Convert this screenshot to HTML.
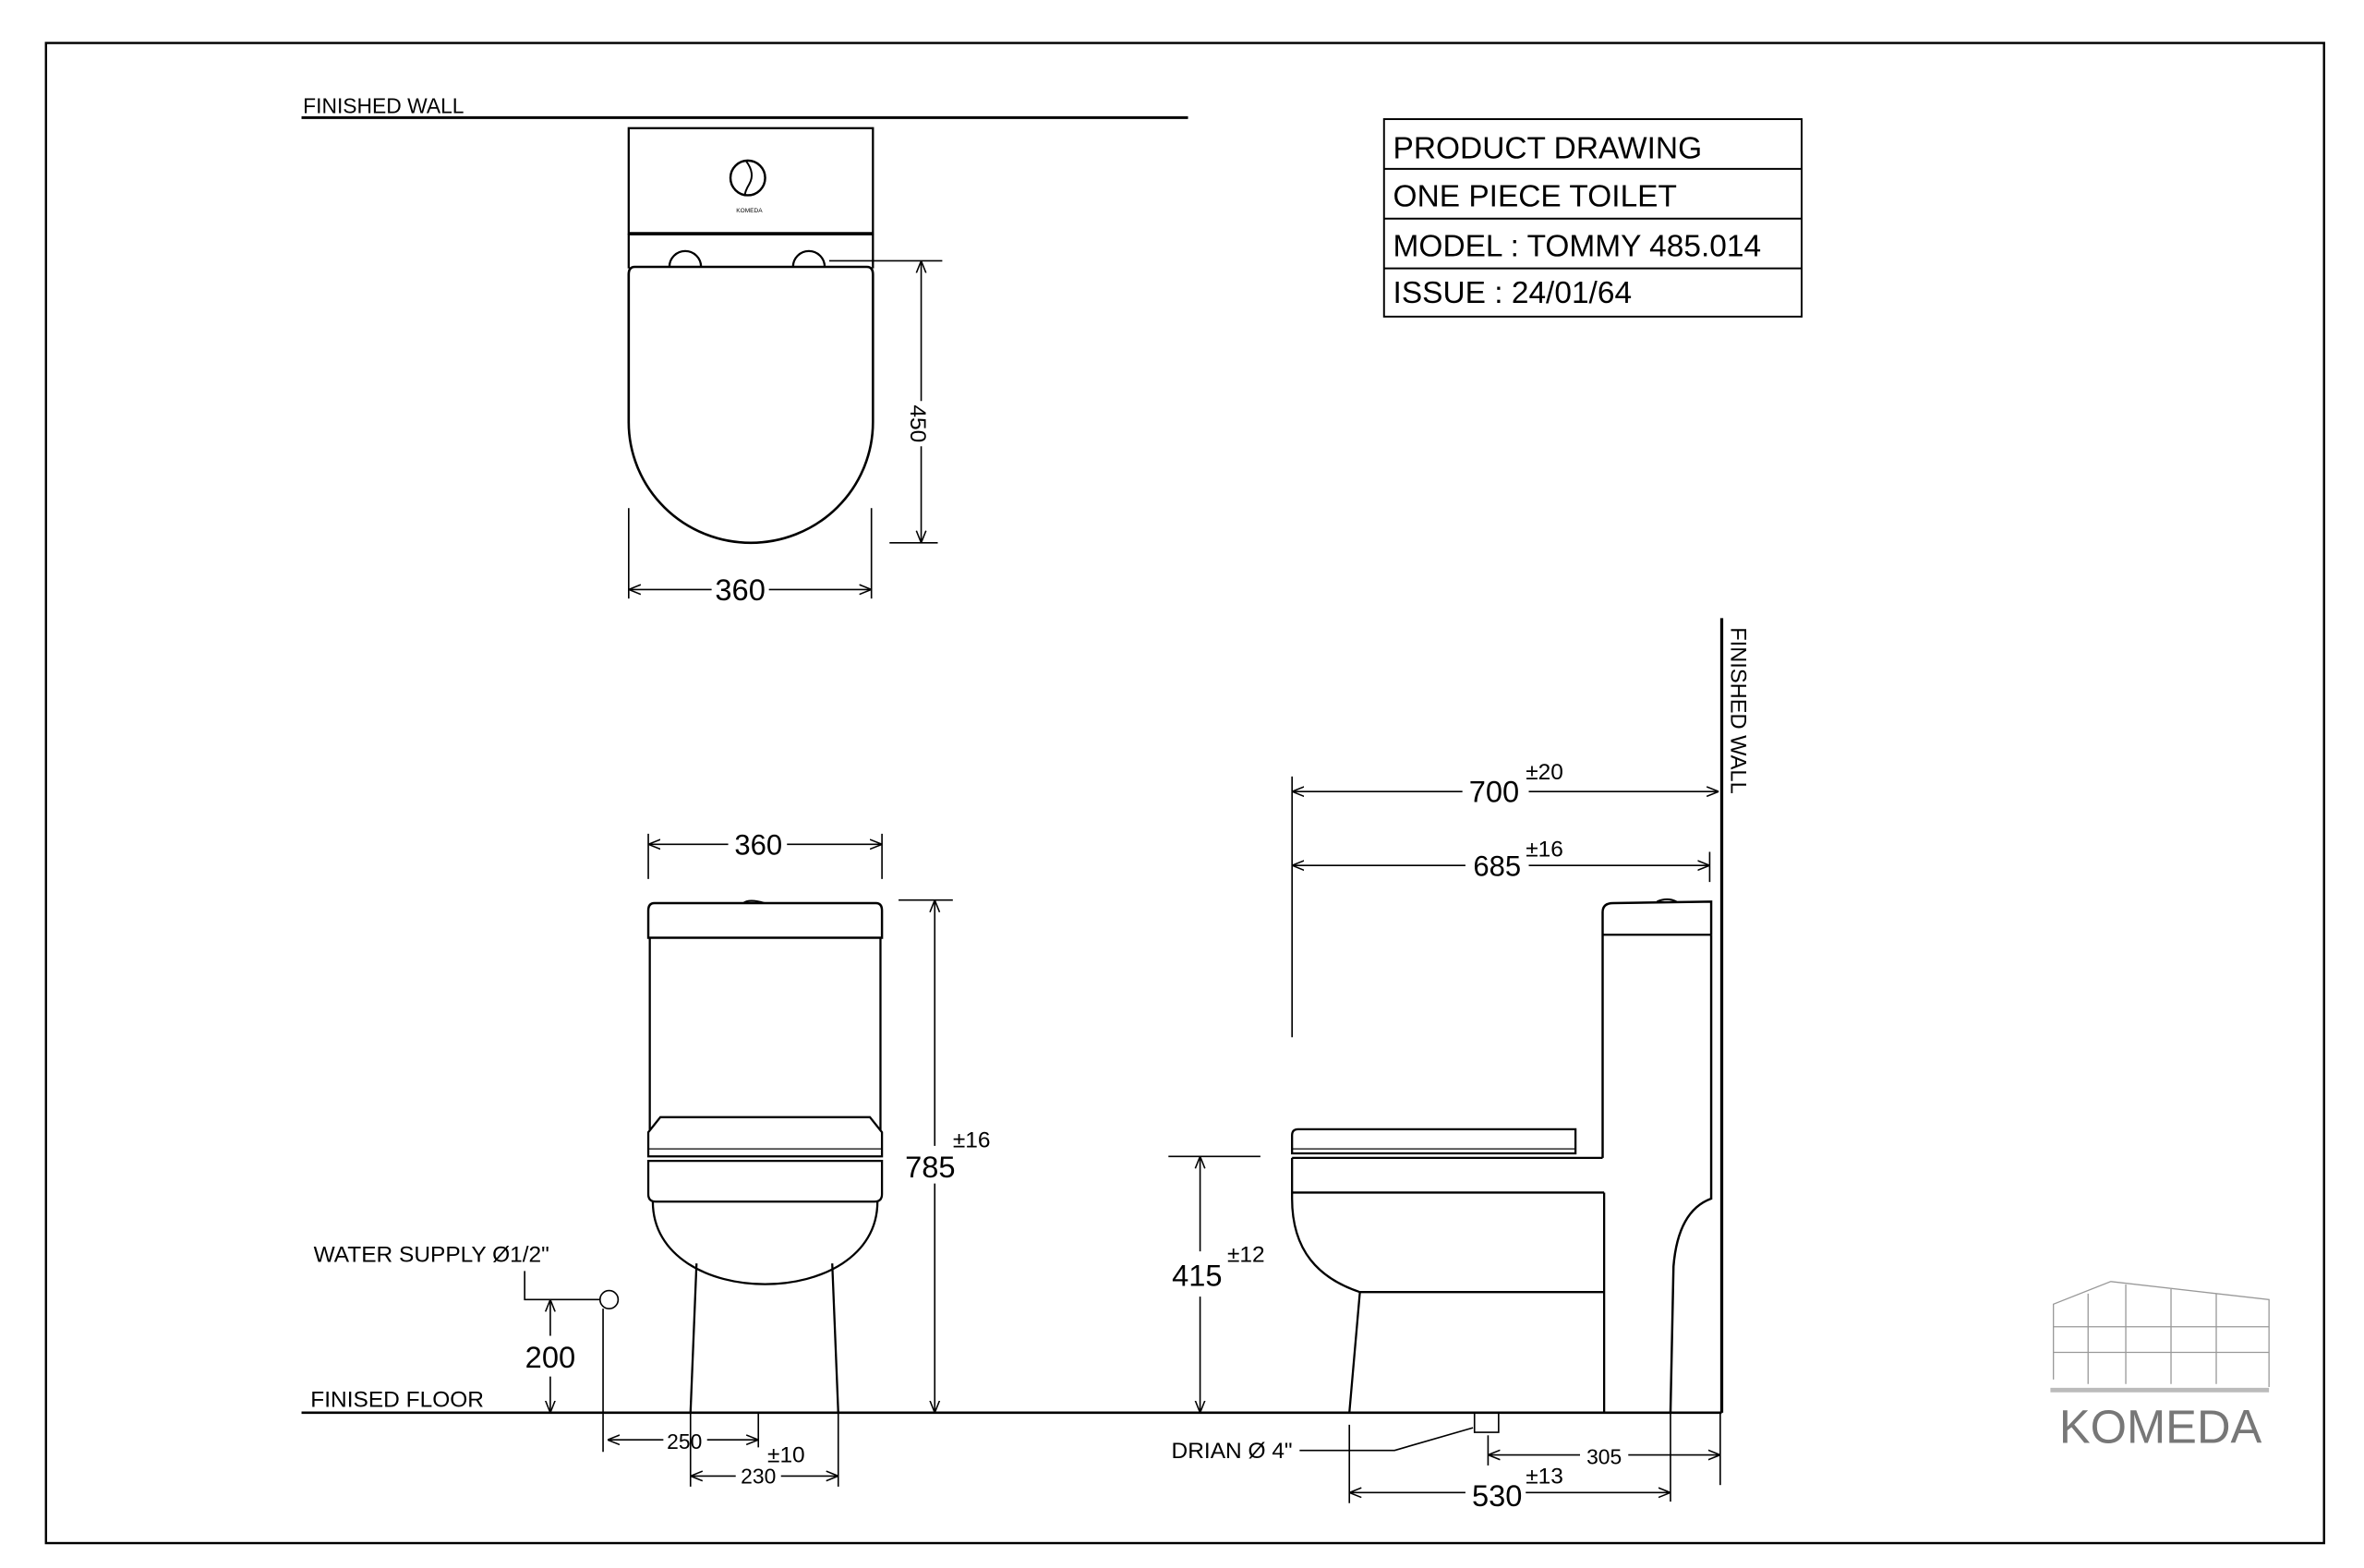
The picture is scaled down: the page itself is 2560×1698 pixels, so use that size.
<!DOCTYPE html>
<html><head><meta charset="utf-8"><style>html,body{margin:0;padding:0;background:#fff}svg{display:block}</style></head>
<body>
<svg width="2560" height="1698" viewBox="0 0 1568 1040" xmlns="http://www.w3.org/2000/svg" font-family="Liberation Sans, sans-serif">
<defs>
<marker id="a" viewBox="0 0 10 10" refX="10" refY="5" markerWidth="8" markerHeight="8" orient="auto-start-reverse" markerUnits="userSpaceOnUse"><path d="M0,1 L10,5 L0,9" fill="none" stroke="#000" stroke-width="1.2"/></marker>
</defs>
<rect width="1568" height="1040" fill="#fff"/>
<rect x="30.5" y="28.5" width="1511" height="995" fill="none" stroke="#000" stroke-width="1.5"/>

<g stroke="#000" fill="none" stroke-width="1.4">
<!-- top view -->
<line x1="200" y1="78" x2="788" y2="78" stroke-width="1.8"/>
<rect x="417" y="85" width="162" height="70"/>
<line x1="417" y1="155" x2="579" y2="155" stroke-width="2.2"/>
<line x1="417" y1="155" x2="417" y2="178"/><line x1="579" y1="155" x2="579" y2="178"/>
<path d="M444,177 A10,10 0 0 1 465,177"/><path d="M526,177 A10,10 0 0 1 547,177"/>
<path d="M421,177 L575,177 Q579,177 579,182 L579,280 A81,80 0 0 1 417,280 L417,182 Q417,177 421,177 Z" stroke-width="1.6"/>
<circle cx="496" cy="118" r="11.5" stroke-width="1.5"/>
<path d="M495,107 Q501,115 497,122 Q494,127 494,130" stroke-width="1.2"/>
<g stroke-width="1">
<line x1="550" y1="173" x2="625" y2="173"/><line x1="590" y1="360" x2="622" y2="360"/>
<line x1="611" y1="173" x2="611" y2="266" marker-start="url(#a)"/><line x1="611" y1="296" x2="611" y2="360" marker-end="url(#a)"/>
<line x1="417" y1="337" x2="417" y2="397"/><line x1="578" y1="337" x2="578" y2="397"/>
<line x1="417" y1="391" x2="472" y2="391" marker-start="url(#a)"/><line x1="510" y1="391" x2="578" y2="391" marker-end="url(#a)"/>
</g>
<!-- title block -->
<rect x="918" y="79" width="277" height="131" stroke-width="1.2"/>
<line x1="918" y1="112" x2="1195" y2="112" stroke-width="1.2"/>
<line x1="918" y1="145" x2="1195" y2="145" stroke-width="1.2"/>
<line x1="918" y1="178" x2="1195" y2="178" stroke-width="1.2"/>

<!-- front view -->
<line x1="200" y1="937" x2="1142" y2="937" stroke-width="1.6"/>
<path d="M507,599 Q497,596 493,599" stroke-width="1.2"/>
<path d="M434,599 L581,599 Q585,599 585,604 L585,622 L430,622 L430,604 Q430,599 434,599 Z" stroke-width="1.5"/>
<line x1="431" y1="622" x2="431" y2="750"/><line x1="584" y1="622" x2="584" y2="750"/>
<path d="M438,741 L577,741 L585,751 L585,767 L430,767 L430,751 Z"/>
<line x1="430" y1="762" x2="585" y2="762" stroke-width="0.8"/>
<path d="M430,770 L585,770 L585,792 Q585,797 580,797 L435,797 Q430,797 430,792 Z"/>
<path d="M433,797 C433,870 582,870 582,797"/>
<path d="M462,838 L458,937"/><path d="M552,838 L556,937"/>
<g stroke-width="1">
<line x1="430" y1="553" x2="430" y2="583"/><line x1="585" y1="553" x2="585" y2="583"/>
<line x1="430" y1="560" x2="483" y2="560" marker-start="url(#a)"/><line x1="522" y1="560" x2="585" y2="560" marker-end="url(#a)"/>
<line x1="596" y1="597" x2="632" y2="597"/>
<line x1="620" y1="597" x2="620" y2="760" marker-start="url(#a)"/><line x1="620" y1="785" x2="620" y2="937" marker-end="url(#a)"/>
<path d="M348,843 L348,862 L398,862"/>
<circle cx="404" cy="862" r="6"/>
<line x1="400" y1="868" x2="400" y2="963"/>
<line x1="365" y1="862" x2="365" y2="886" marker-start="url(#a)"/><line x1="365" y1="913" x2="365" y2="937" marker-end="url(#a)"/>
<line x1="503" y1="937" x2="503" y2="960"/>
<line x1="403" y1="955" x2="440" y2="955" marker-start="url(#a)"/><line x1="469" y1="955" x2="503" y2="955" marker-end="url(#a)"/>
<line x1="458" y1="937" x2="458" y2="986"/><line x1="556" y1="937" x2="556" y2="986"/>
<line x1="458" y1="979" x2="488" y2="979" marker-start="url(#a)"/><line x1="518" y1="979" x2="556" y2="979" marker-end="url(#a)"/>
</g>

<!-- side view -->
<line x1="1142" y1="410" x2="1142" y2="937" stroke-width="2"/>
<g stroke-width="1">
<line x1="857" y1="515" x2="857" y2="688"/>
<line x1="857" y1="525" x2="970" y2="525" marker-start="url(#a)"/><line x1="1014" y1="525" x2="1140" y2="525" marker-end="url(#a)"/>
<line x1="857" y1="574" x2="972" y2="574" marker-start="url(#a)"/><line x1="1014" y1="574" x2="1134" y2="574" marker-end="url(#a)"/>
<line x1="1134" y1="565" x2="1134" y2="585"/>
<line x1="775" y1="767" x2="836" y2="767"/>
<line x1="796" y1="767" x2="796" y2="830" marker-start="url(#a)"/><line x1="796" y1="860" x2="796" y2="937" marker-end="url(#a)"/>
<path d="M862,962 L925,962 L977,947"/>
<line x1="987" y1="952" x2="987" y2="972"/>
<line x1="987" y1="965" x2="1048" y2="965" marker-start="url(#a)"/><line x1="1080" y1="965" x2="1141" y2="965" marker-end="url(#a)"/>
<line x1="1141" y1="937" x2="1141" y2="985"/><line x1="1108" y1="937" x2="1108" y2="996"/>
<line x1="895" y1="945" x2="895" y2="997"/>
<line x1="895" y1="990" x2="972" y2="990" marker-start="url(#a)"/><line x1="1012" y1="990" x2="1108" y2="990" marker-end="url(#a)"/>
</g>
<path d="M1099,598 Q1106,595 1112,598" stroke-width="1.2"/>
<path d="M1063,768 L1063,605 Q1063,599 1070,599 L1135,598 L1135,620" stroke-width="1.5"/>
<line x1="1063" y1="620" x2="1135" y2="620"/>
<path d="M1135,620 L1135,795 Q1113,803 1110,840 L1108,937" stroke-width="1.5"/>
<path d="M861,749 L1045,749 L1045,765 L857,765 L857,753 Q857,749 861,749 Z"/>
<line x1="857" y1="762" x2="1045" y2="762" stroke-width="0.8"/>
<line x1="857" y1="768" x2="1063" y2="768"/>
<path d="M857,768 L857,795 C857,830 875,848 902,857"/>
<line x1="902" y1="857" x2="1064" y2="857"/>
<line x1="857" y1="791" x2="1064" y2="791"/>
<line x1="1064" y1="791" x2="1064" y2="937"/>
<path d="M902,857 L895,937"/>
<path d="M978,937 L978,950 L994,950 L994,937" stroke-width="1"/>

<!-- logo building -->
<g stroke="#999" stroke-width="0.8">
<path d="M1362,915 L1362,865 L1400,850 L1505,862 L1505,920"/>
<path d="M1362,880 L1505,880 M1362,897 L1505,897 M1385,858 L1385,918 M1410,852 L1410,918 M1440,855 L1440,918 M1470,858 L1470,918"/>
<path d="M1360,922 L1505,922" stroke="#bbb" stroke-width="3"/>
</g>
</g>

<g fill="#000">
<text x="201" y="75" font-size="14">FINISHED WALL</text>
<text x="497" y="141" font-size="4" text-anchor="middle">KOMEDA</text>
<text transform="translate(604,281) rotate(90)" font-size="15" text-anchor="middle">450</text>
<text x="491" y="398" font-size="20" text-anchor="middle">360</text>
<text x="924" y="105" font-size="20.5">PRODUCT  DRAWING</text>
<text x="924" y="137" font-size="20.5">ONE PIECE TOILET</text>
<text x="924" y="170" font-size="20.5">MODEL : TOMMY 485.014</text>
<text x="924" y="201" font-size="20.5">ISSUE :  24/01/64</text>

<text x="503" y="567" font-size="19" text-anchor="middle">360</text>
<text x="617" y="781" font-size="20" text-anchor="middle">785</text>
<text x="632" y="761" font-size="15">±16</text>
<text x="208" y="837" font-size="15">WATER SUPPLY Ø1/2"</text>
<text x="365" y="907" font-size="20" text-anchor="middle">200</text>
<text x="206" y="933" font-size="15">FINISED FLOOR</text>
<text x="454" y="961" font-size="14" text-anchor="middle">250</text>
<text x="509" y="970" font-size="15">±10</text>
<text x="503" y="984" font-size="14" text-anchor="middle">230</text>

<text transform="translate(1148,416) rotate(90)" font-size="14.5">FINISHED WALL</text>
<text x="991" y="532" font-size="20" text-anchor="middle">700</text>
<text x="1012" y="517" font-size="15">±20</text>
<text x="993" y="581" font-size="19" text-anchor="middle">685</text>
<text x="1012" y="568" font-size="15">±16</text>
<text x="794" y="853" font-size="20" text-anchor="middle">415</text>
<text x="814" y="837" font-size="15">±12</text>
<text x="777" y="967" font-size="15">DRIAN Ø 4"</text>
<text x="1064" y="971" font-size="14" text-anchor="middle">305</text>
<text x="993" y="999" font-size="20" text-anchor="middle">530</text>
<text x="1012" y="984" font-size="15">±13</text>
<text x="1433" y="957" font-size="31" fill="#777" text-anchor="middle">KOMEDA</text>
</g>
</svg>
</body></html>
